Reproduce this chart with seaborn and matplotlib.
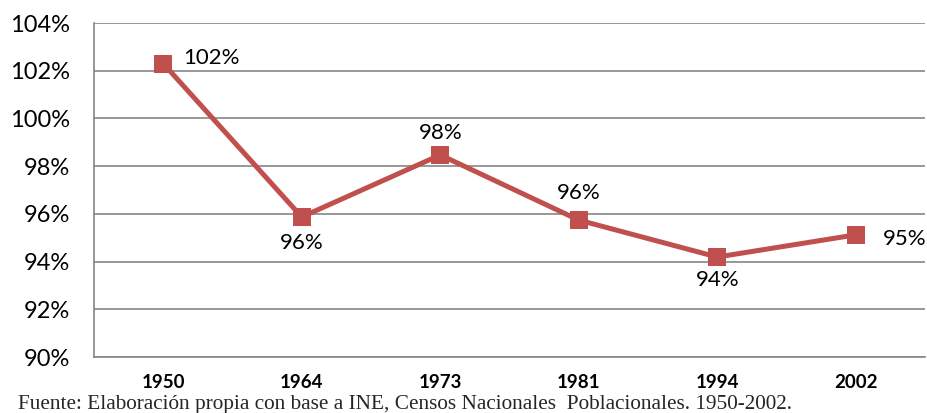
import matplotlib
matplotlib.use("Agg")
import matplotlib.pyplot as plt
import matplotlib.ticker as mticker
import seaborn as sns
import pandas as pd
import numpy as np

years = ["1950", "1964", "1973", "1981", "1994", "2002"]
ratio = [102.3, 95.87, 98.47, 95.74, 94.19, 95.12]
labels = ["102%", "96%", "98%", "96%", "94%", "95%"]
# label placement: (dx, dy) in pixels, ha
label_pos = [(20, 6, "left"), (0, -26, "center"), (0, 22, "center"),
             (0, 27, "center"), (0, -23, "center"), (27, -4, "left")]

LINE_COLOR = "#C0504D"
GRID_COLOR = "#868686"

sns.set_theme(style="white")
plt.rcParams["font.family"] = ["Lato", "DejaVu Sans"]

df = pd.DataFrame({"year": years, "ratio": ratio})

fig = plt.figure(figsize=(9.27, 4.13), dpi=100)
ax = fig.add_axes([94 / 927, 1 - 357 / 413, (925 - 94) / 927, (357 - 23) / 413])

sns.lineplot(data=df, x="year", y="ratio", ax=ax, color=LINE_COLOR,
             linewidth=3.6, marker="s", markersize=12.5, markeredgewidth=0,
             sort=False)

for i, (lab, (dx, dy, ha)) in enumerate(zip(labels, label_pos)):
    ax.annotate(lab, (i, ratio[i]), xytext=(dx * 0.72, dy * 0.72),
                textcoords="offset points", ha=ha, va="center", fontsize=16,
                color="black")

ax.set_ylim(90, 104)
ax.set_xlim(-0.5, len(years) - 0.5)
ax.set_yticks(np.arange(90, 105, 2))
ax.yaxis.set_major_formatter(mticker.FuncFormatter(lambda v, p: f"{v:.0f}%"))
ax.yaxis.grid(True, color=GRID_COLOR, linewidth=1.2)
ax.set_axisbelow(True)

ax.set_xticks(range(len(years)))
ax.set_xticklabels(years, fontsize=13.5, fontweight="bold")
ax.set_xticks(np.arange(-0.5, len(years), 1), minor=True)
ax.tick_params(axis="x", which="major", length=0, pad=12)
ax.tick_params(axis="x", which="minor", length=5, width=1.2, color=GRID_COLOR,
               direction="out")
ax.tick_params(axis="y", length=5, width=1.2, color=GRID_COLOR, direction="out",
               labelsize=17, pad=12, labelcolor="black")
ax.tick_params(axis="x", labelcolor="black")
ax.set_xlabel("")
ax.set_ylabel("")

for s in ["top", "right"]:
    ax.spines[s].set_visible(False)
for s in ["left", "bottom"]:
    ax.spines[s].set_color(GRID_COLOR)
    ax.spines[s].set_linewidth(1.2)

fig.text(18 / 927, 1 - 404 / 413,
         "Fuente: Elaboración propia con base a INE, Censos Nacionales  Poblacionales. 1950-2002.",
         family=["Liberation Serif", "DejaVu Serif"], fontsize=15.3, va="center", ha="left")

fig.savefig("out.png", dpi=100)
